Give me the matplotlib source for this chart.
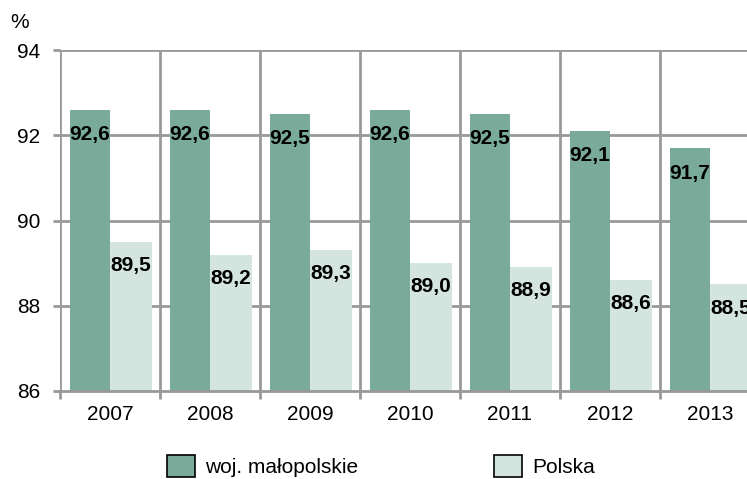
import matplotlib
matplotlib.use("Agg")
import matplotlib.pyplot as plt
import numpy as np

years = ["2007", "2008", "2009", "2010", "2011", "2012", "2013"]
malopolskie = [92.6, 92.6, 92.5, 92.6, 92.5, 92.1, 91.7]
polska = [89.5, 89.2, 89.3, 89.0, 88.9, 88.6, 88.5]
labels_m = ["92,6", "92,6", "92,5", "92,6", "92,5", "92,1", "91,7"]
labels_p = ["89,5", "89,2", "89,3", "89,0", "88,9", "88,6", "88,5"]

plt.rcParams['font.family'] = ['Liberation Sans', 'DejaVu Sans']

W, H = 747, 479
fig = plt.figure(figsize=(W / 100, H / 100), dpi=100)
ax = fig.add_axes([60 / W, 88 / H, (W - 60) / W, 341 / H])

dark = "#7aaa99"
light = "#d4e5df"
grid = "#999999"

x = np.arange(len(years))
b1 = ax.bar(x - 0.2, malopolskie, width=0.4, color=dark, zorder=3, label="woj. małopolskie")
b2 = ax.bar(x + 0.21, polska, width=0.42, color=light, zorder=3, label="Polska")

for xi, v, t in zip(x, malopolskie, labels_m):
    ax.annotate(t, (xi - 0.2, v), xytext=(0, -18), textcoords="offset points",
                ha="center", va="center", fontsize=15, fontweight="bold", zorder=4)
for xi, v, t in zip(x, polska, labels_p):
    ax.annotate(t, (xi + 0.21, v), xytext=(0, -17), textcoords="offset points",
                ha="center", va="center", fontsize=15, fontweight="bold", zorder=4)

seps = np.arange(-0.5, len(years) + 0.5, 1)
ax.set_yticks([86, 88, 90, 92, 94])
ax.set_xticks(x)
ax.set_xticklabels(years)
ax.set_xticks(seps, minor=True)
ax.tick_params(axis="x", which="major", length=0, labelsize=15, pad=10)
ax.tick_params(axis="x", which="minor", length=5.5, width=2, color=grid)
ax.tick_params(axis="y", length=5, width=2, color=grid, labelsize=15, pad=9)

for yv in [88, 90, 92, 94]:
    ax.axhline(yv, color=grid, lw=2, zorder=1)
for xv in seps:
    ax.axvline(xv, color=grid, lw=2, zorder=1)

ax.set_ylim(86, 94)
ax.set_xlim(-0.5, -0.5 + (W - 60) / 100)

for s in ["top", "right", "left"]:
    ax.spines[s].set_visible(False)
ax.spines["bottom"].set_color(grid)
ax.spines["bottom"].set_linewidth(2)
ax.spines["bottom"].set_zorder(5)

fig.text(20 / W, 1 - 22 / H, "%", ha="center", va="center", fontsize=15)

leg = fig.legend(handles=[b1, b2], loc="center", bbox_to_anchor=(381 / W, 13 / H),
                 ncol=2, frameon=False, fontsize=15, handlelength=1.35, handleheight=1.3,
                 handletextpad=0.48, columnspacing=6.5, borderpad=0, borderaxespad=0)
for p in leg.get_patches():
    p.set_edgecolor("black")
    p.set_linewidth(1.2)

fig.savefig("out.png", dpi=100)
